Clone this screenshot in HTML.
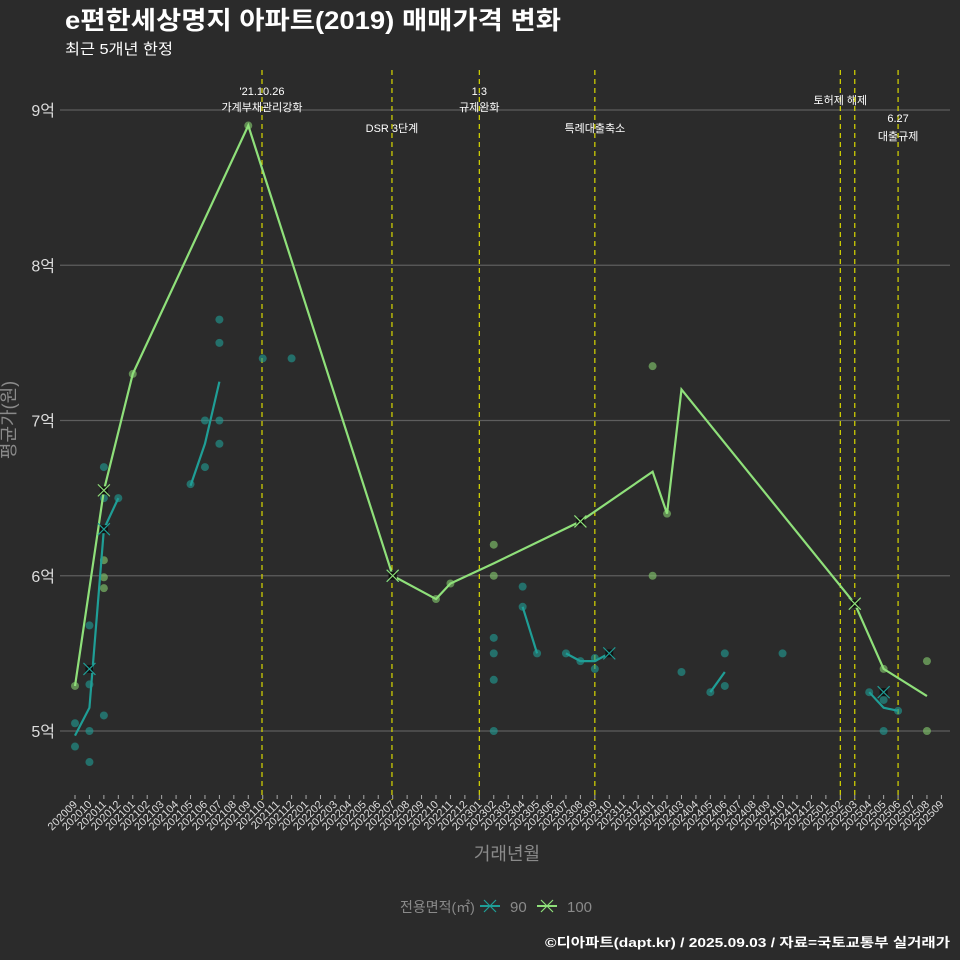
<!DOCTYPE html>
<html><head><meta charset="utf-8">
<style>
html,body{margin:0;padding:0;background:#2b2b2b;}
svg{display:block;font-family:"Liberation Sans","Noto Sans CJK KR",sans-serif;}
</style></head>
<body>
<svg id="chart" width="960" height="960" viewBox="0 0 960 960" xmlns="http://www.w3.org/2000/svg">
<rect x="0" y="0" width="960" height="960" fill="#2b2b2b"/>
<text x="65" y="29" font-size="25" font-weight="bold" fill="#ffffff" textLength="496" lengthAdjust="spacingAndGlyphs">e편한세상명지 아파트(2019) 매매가격 변화</text>
<text x="65" y="54" font-size="15" fill="#ffffff" textLength="108" lengthAdjust="spacingAndGlyphs">최근 5개년 한정</text>
<g id="grid"></g>
<g id="vlines"></g>
<g id="dots"></g>
<g id="lines"></g>
<g id="xaxis"></g>
<text x="15" y="420" font-size="18" fill="#8a8a8a" text-anchor="middle" transform="rotate(-90 15 420)">평균가(원)</text>
<text x="507" y="860" font-size="18" fill="#8a8a8a" text-anchor="middle">거래년월</text>
<g>
<text x="400" y="912" font-size="14" fill="#8a8a8a">전용면적(㎡)</text>
<g>
<line x1="480" y1="906" x2="500" y2="906" stroke="#1f9e96" stroke-width="2"/>
<path d="M484 900 L496 912 M496 900 L484 912" stroke="#1f9e96" stroke-width="1.2"/>
<text x="510" y="912" font-size="15" fill="#8a8a8a">90</text></g>
<g>
<line x1="537" y1="906" x2="557" y2="906" stroke="#8fe07a" stroke-width="2"/>
<path d="M541 900 L553 912 M553 900 L541 912" stroke="#8fe07a" stroke-width="1.2"/>
<text x="567" y="912" font-size="15" fill="#8a8a8a">100</text></g>
</g>
<text x="545" y="947" font-size="13" font-weight="bold" fill="#ffffff" textLength="405" lengthAdjust="spacingAndGlyphs">©디아파트(dapt.kr) / 2025.09.03 / 자료=국토교통부 실거래가</text>
</svg>
<script>
const months = [];
for (let y = 2020, m = 9; months.length < 61; ) { months.push(y + String(m).padStart(2,'0')); m++; if (m > 12) { m = 1; y++; } }
const yTicks = [5, 6, 7, 8, 9];
const yTickLabels = ['5억', '6억', '7억', '8억', '9억'];
const line100Idx = [0, 2, 4, 12, 22, 25, 26, 29, 35, 40, 41, 42, 54, 56, 59];
const line100Val = [5.29, 6.55, 7.3, 8.9, 6.0, 5.85, 5.95, 6.08, 6.35, 6.67, 6.4, 7.2, 5.82, 5.4, 5.225];
const line90Segs = [
  [[0, 4.97], [1, 5.15], [2, 6.3], [3, 6.5]],
  [[8, 6.58], [9, 6.85], [10, 7.25]],
  [[31, 5.8], [32, 5.5]],
  [[34, 5.5], [35, 5.45], [36, 5.45], [37, 5.5]],
  [[44, 5.25], [45, 5.38]],
  [[55, 5.25], [56, 5.15], [57, 5.13]]
];
const xMarks90 = [[1, 5.4], [2, 6.3], [22, 6.0], [37, 5.5], [56, 5.25]];
const xMarks100 = [[2, 6.55], [22, 6.0], [35, 6.35], [54, 5.82]];
const dots100 = [[0,5.29],[2,6.1],[2,5.99],[2,5.92],[4,7.3],[12,8.9],[25,5.85],[26,5.95],[29,6.2],[29,6.0],[40,7.35],[40,6.0],[41,6.4],[56,5.4],[59,5.45],[59,5.0]];
const dots90 = [[0,5.05],[0,4.9],[1,5.68],[1,5.3],[1,5.0],[1,4.8],[2,6.7],[2,6.5],[2,5.1],[3,6.5],[8,6.59],[9,7.0],[9,6.7],[10,7.65],[10,7.5],[10,7.0],[10,6.85],[13,7.4],[15,7.4],
  [29,5.6],[29,5.5],[29,5.33],[29,5.0],[31,5.93],[31,5.8],[32,5.5],[34,5.5],[35,5.45],[36,5.47],[36,5.4],[37,5.5],[42,5.38],[44,5.25],[45,5.5],[45,5.29],[49,5.5],[55,5.25],[56,5.2],[56,5.0],[57,5.13]];
const policyIdx = [12.95, 21.95, 28, 36, 53, 54, 57];
const policyLabels = [["'21.10.26","가계부채관리강화"],["DSR 3단계"],["1.3","규제완화"],["특례대출축소"],["토허제 해제"],[],["6.27","대출규제"]];
const policyLabelY = [[95,111],[132],[95,111],[132],[104],[],[122,140]];

const NS = 'http://www.w3.org/2000/svg';
const X = i => 75 + i * 14.44;
const Y = v => 731 - (v - 5) * 155.25;
function mk(tag, attrs, parent) { const e = document.createElementNS(NS, tag); for (const k in attrs) e.setAttribute(k, attrs[k]); parent.appendChild(e); return e; }
const grid = document.getElementById('grid');
yTicks.forEach((t, i) => {
  const l = mk('line', {x1: 60, x2: 950, y1: Y(t), y2: Y(t), stroke: '#5e5e5e', 'stroke-width': 1.2}, grid);
  
  
  const tx = mk('text', {x: 55, y: Y(t) + 6, 'font-size': 16, fill: '#dddddd', 'text-anchor': 'end'}, grid);
  tx.textContent = yTickLabels[i];
  
  
});
const vl = document.getElementById('vlines');
policyIdx.forEach((p, i) => {
  const l = mk('line', {x1: X(p), x2: X(p), y1: 70, y2: 800, stroke: '#d8d800', 'stroke-width': 1.2, 'stroke-dasharray': '5,4'}, vl);
  
  
  policyLabels[i].forEach((s, j) => {
    const t = mk('text', {x: X(p), y: policyLabelY[i][j], 'font-size': 11, fill: '#ffffff', 'text-anchor': 'middle'}, vl);
    t.textContent = s;
    
    
  });
});
const dg = document.getElementById('dots');
dots90.forEach(d => {
  const c = mk('circle', {cx: X(d[0]), cy: Y(d[1]), r: 4, fill: '#1f9e96', 'fill-opacity': 0.6}, dg);
  
  
});
dots100.forEach(d => {
  const c = mk('circle', {cx: X(d[0]), cy: Y(d[1]), r: 4, fill: '#7fc26a', 'fill-opacity': 0.65}, dg);
  
  
});
const lg = document.getElementById('lines');
line90Segs.forEach(seg => {
  const p = mk('polyline', {points: seg.map(q => X(q[0]) + ',' + Y(q[1])).join(' '), fill: 'none', stroke: '#1f9e96', 'stroke-width': 2.2}, lg);
  
  
});
const p100 = mk('polyline', {points: line100Idx.map((i, k) => X(i) + ',' + Y(line100Val[k])).join(' '), fill: 'none', stroke: '#8fe07a', 'stroke-width': 2.2}, lg);


function xm(d, col, name) {
  const x = X(d[0]), y = Y(d[1]);
  mk('rect', {x: x - 4, y: y - 4, width: 8, height: 8, fill: '#111'}, lg);
  const m = mk('path', {d: `M${x-6} ${y-6}L${x+6} ${y+6}M${x+6} ${y-6}L${x-6} ${y+6}`, stroke: col, 'stroke-width': 1.2}, lg);
  
  
}
xMarks90.forEach(d => xm(d, '#1f9e96', 'marker-90'));
xMarks100.forEach(d => xm(d, '#8fe07a', 'marker-100'));
const xa = document.getElementById('xaxis');
months.forEach((m, i) => {
  mk('line', {x1: X(i), x2: X(i), y1: 795, y2: 799, stroke: '#aaaaaa', 'stroke-width': 1}, xa);
  const t = mk('text', {x: X(i) + 3, y: 805, 'font-size': 11, fill: '#dddddd', 'text-anchor': 'end', transform: `rotate(-45 ${X(i)+3} 805)`}, xa);
  t.textContent = m;
  
  
});
</script>
</body></html>
